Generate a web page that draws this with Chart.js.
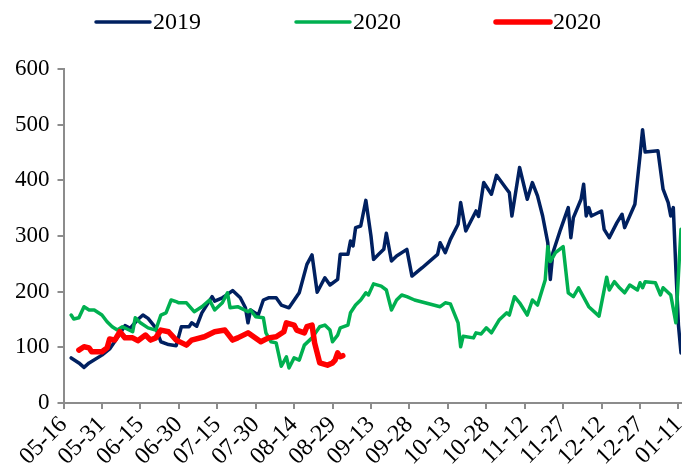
<!DOCTYPE html>
<html>
<head>
<meta charset="utf-8">
<script src="https://cdn.jsdelivr.net/npm/chart.js@4.4.1/dist/chart.umd.min.js"></script>
<style>
  html, body { margin: 0; padding: 0; background: #fff; }
  #wrap { width: 682px; height: 468px; }
</style>
</head>
<body>
<div id="wrap"><canvas id="myChart"></canvas></div>
<script>
// x tick labels, one every 15 days from 05-16
const xTickLabels = ["05-16", "05-31", "06-15", "06-30", "07-15", "07-30", "08-14", "08-29",
  "09-13", "09-28", "10-13", "10-28", "11-12", "11-27", "12-12", "12-27", "01-11"];

// days counted from 05-16
const days2019 = [3, 6, 8, 10, 15, 18, 21, 24, 26, 29, 31, 33, 36, 38, 41, 44, 46, 49, 50, 52, 54, 58, 59, 62, 64, 66, 69, 71, 72, 73,
  76, 78, 80, 83, 85, 88, 92, 95, 97, 99, 102, 104, 107, 108, 111, 112, 113, 114, 116, 118, 120, 121, 123, 125, 126, 128, 130, 134, 136, 140,
  146, 147, 149, 151, 154, 155, 157, 161, 162, 164, 167, 169, 173, 174, 175, 178, 181, 183, 185, 187, 189, 190, 191, 194, 197, 198, 199, 202, 203, 204,
  205, 206, 210, 211, 213, 216, 218, 219, 223, 225, 226, 227, 232, 234, 236, 237, 238, 239, 240, 241];
const values2019 = [81, 72, 64, 72, 86, 97, 117, 139, 134, 150, 158, 152, 135, 110, 105, 103, 137, 137, 144, 138, 162, 191, 183, 189, 195, 202, 189, 171, 144, 167,
  158, 185, 189, 189, 176, 171, 198, 249, 266, 199, 225, 212, 222, 267, 267, 291, 282, 315, 318, 364, 300, 258, 267, 276, 305, 255, 264, 276, 228, 243,
  267, 288, 270, 294, 321, 360, 309, 345, 335, 396, 375, 409, 384, 378, 336, 423, 366, 396, 372, 336, 288, 222, 270, 312, 351, 297, 333, 366, 393, 336,
  351, 336, 345, 312, 297, 324, 339, 315, 357, 444, 491, 451, 453, 384, 360, 336, 351, 240, 140, 90];

const daysGreen = [3, 4, 6, 8, 10, 12, 15, 17, 19, 21, 23, 27, 28, 30, 33, 36, 38, 40, 42, 44, 45, 48, 51, 54, 57, 59, 62, 64, 65, 68,
  72, 73, 75, 78, 79, 81, 83, 85, 87, 88, 90, 92, 94, 97, 100, 102, 104, 105, 107, 108, 111, 112, 114, 116, 118, 119, 121, 124, 126, 128,
  130, 132, 134, 137, 147, 149, 151, 154, 155, 156, 160, 161, 163, 165, 167, 170, 173, 174, 176, 178, 181, 183, 185, 188, 189, 190, 192, 195, 197, 199,
  201, 205, 209, 212, 213, 215, 217, 219, 221, 224, 225, 226, 227, 231, 233, 234, 237, 239, 240, 241];
const valuesGreen = [158, 151, 153, 173, 167, 167, 158, 146, 137, 131, 137, 128, 153, 144, 135, 131, 158, 162, 185, 182, 180, 180, 164, 173, 185, 167, 180, 198, 171, 173,
  164, 167, 155, 153, 126, 110, 108, 66, 83, 63, 81, 77, 104, 117, 137, 140, 131, 110, 122, 135, 140, 162, 176, 185, 198, 194, 214, 210, 203, 167,
  185, 194, 191, 185, 173, 180, 178, 144, 101, 120, 117, 126, 124, 135, 126, 149, 162, 158, 191, 180, 158, 185, 176, 221, 281, 254, 270, 281, 198, 191,
  207, 173, 156, 226, 203, 218, 207, 198, 212, 203, 216, 207, 218, 216, 194, 207, 194, 144, 230, 312];

const daysRed = [6, 8, 10, 11, 15, 17, 18, 20, 22, 24, 27, 29, 32, 34, 36, 38, 41, 44, 48, 50, 55, 59, 63, 66, 68, 72, 77, 80, 83, 86,
  87, 90, 91, 94, 95, 97, 98, 100, 103, 105, 106, 107, 108, 109];
const valuesRed = [95, 101, 99, 92, 92, 99, 115, 113, 128, 117, 117, 112, 122, 113, 117, 131, 128, 113, 104, 113, 119, 128, 131, 113, 117, 126, 110, 117, 119, 128,
  144, 140, 131, 126, 137, 140, 108, 72, 68, 72, 77, 90, 83, 85];

const yTicks = [0, 100, 200, 300, 400, 500, 600];

function points(days, values) {
  return days.map((d, i) => ({ x: d, y: values[i] }));
}

const axisColor = "#8c8c8c";
const family = "'Liberation Serif', 'Times New Roman', serif";

// legend drawn by hand: line, then the label just after it
const legendLines = {
  id: "legendLines",
  afterDraw(chart) {
    const c = chart.ctx;
    c.save();
    c.font = "24px " + family;
    c.textBaseline = "middle";
    c.lineCap = "round";
    chart.data.datasets.forEach((ds, i) => {
      const x = 96 + i * 200;
      const y = 22;
      c.strokeStyle = ds.borderColor;
      c.lineWidth = ds.borderWidth;
      c.beginPath();
      c.moveTo(x, y);
      c.lineTo(x + 54, y);
      c.stroke();
      c.fillStyle = "#000";
      c.fillText(ds.label, x + 57, y + 1);
    });
    c.restore();
  },
};

const ctx = document.getElementById("myChart");
new Chart(ctx, {
  type: "line",
  data: {
    datasets: [
      {
        label: "2019",
        data: points(days2019, values2019),
        borderColor: "#002060",
        borderWidth: 3.5,
        order: 2,
      },
      {
        label: "2020",
        data: points(daysGreen, valuesGreen),
        borderColor: "#00b050",
        borderWidth: 3.5,
        order: 1,
      },
      {
        label: "2020",
        data: points(daysRed, valuesRed),
        borderColor: "#ff0000",
        borderWidth: 5.5,
        order: 0,
      },
    ],
  },
  options: {
    responsive: true,
    maintainAspectRatio: false,
    animation: false,
    layout: { padding: { left: 7, right: 1, top: 69, bottom: 0 } },
    elements: {
      point: { radius: 0 },
      line: { tension: 0, borderJoinStyle: "round", borderCapStyle: "round" },
    },
    scales: {
      x: {
        type: "linear",
        min: 0,
        max: 241,
        afterBuildTicks: (axis) => {
          axis.ticks = xTickLabels.map((_, i) => ({ value: i * 15 }));
        },
        afterFit: (axis) => {
          axis.paddingRight = 0;
          axis.height = 65;
        },
        ticks: {
          autoSkip: false,
          minRotation: 45,
          maxRotation: 45,
          padding: 2,
          color: "#000",
          font: { family: family, size: 24 },
          callback: (value) => xTickLabels[Math.round(value / 15)],
        },
        grid: { drawOnChartArea: false, tickLength: 6, color: axisColor, lineWidth: 2 },
        border: { color: axisColor, width: 2 },
      },
      y: {
        min: 0,
        max: 600,
        afterBuildTicks: (axis) => {
          axis.ticks = yTicks.map((v) => ({ value: v }));
        },
        ticks: { color: "#000", font: { family: family, size: 23 }, padding: 8 },
        grid: { drawOnChartArea: false, tickLength: 6, color: axisColor, lineWidth: 2 },
        border: { color: axisColor, width: 2 },
      },
    },
    plugins: {
      tooltip: { enabled: false },
      legend: { display: false },
    },
  },
  plugins: [legendLines],
});
</script>
</body>
</html>
